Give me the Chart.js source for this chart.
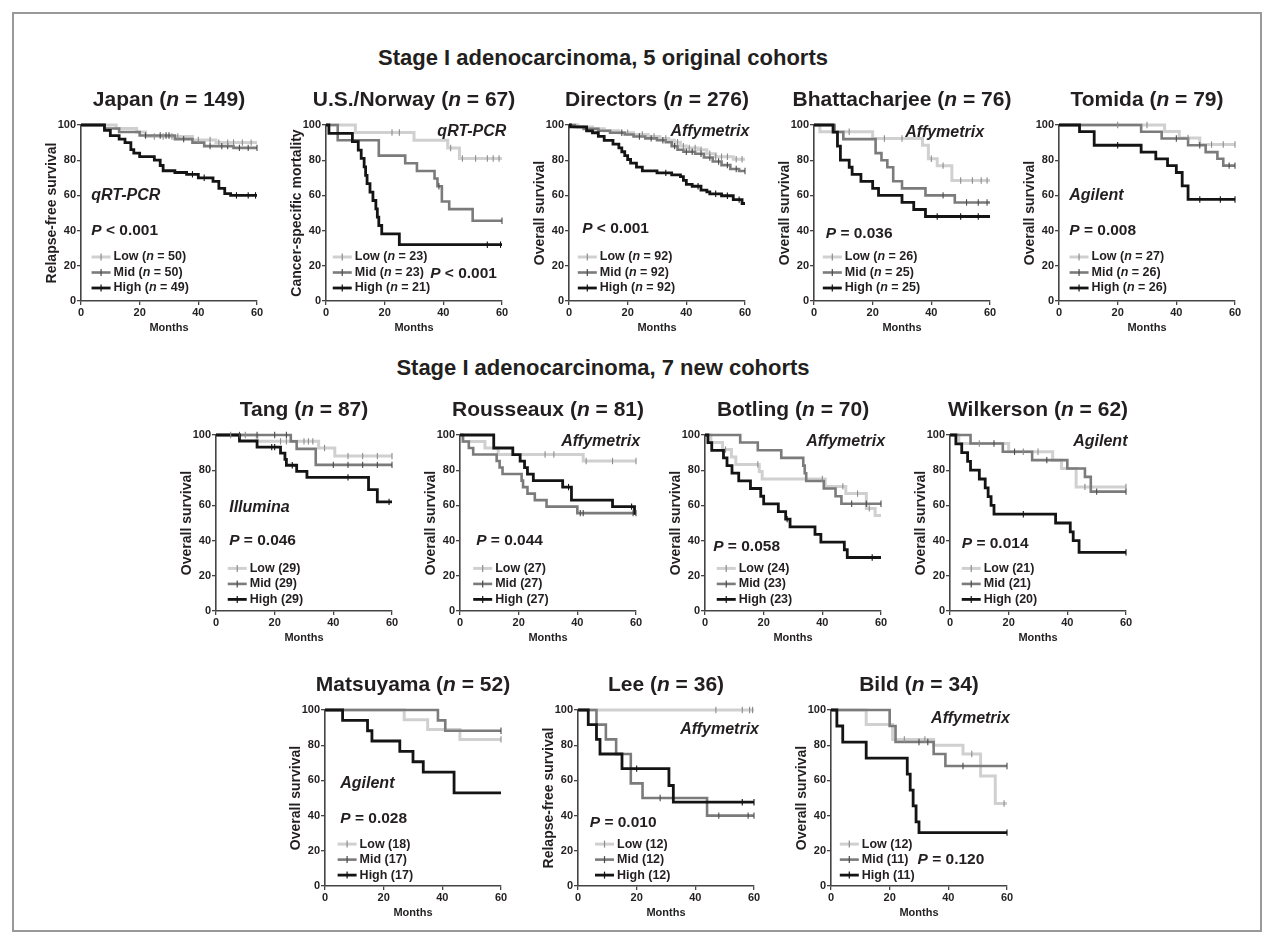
<!DOCTYPE html>
<html>
<head>
<meta charset="utf-8">
<script src="https://cdn.jsdelivr.net/npm/chart.js@4.4.1/dist/chart.umd.min.js"></script>
<style>
  body { margin: 0; background: #fff; font-family: "Liberation Sans", Arial, sans-serif; }
  #frame { position: absolute; left: 12px; top: 12px; width: 1250px; height: 920px; border: 2px solid #999; box-sizing: border-box; }
  .head { position: absolute; left: 0; width: 1206px; text-align: center; font-weight: bold; font-size: 22px; line-height: 25px; color: #231f20; }
  canvas { position: absolute; }
</style>
</head>
<body>
<div id="frame"></div>
<div class="head" style="top:45px">Stage I adenocarcinoma, 5 original cohorts</div>
<div class="head" style="top:355px">Stage I adenocarcinoma, 7 new cohorts</div>
<script>
// axis ticks
const monthTicks = [0, 20, 40, 60]
const pctTicks = [0, 20, 40, 60, 80, 100]

// survival steps: [month, survival % after the drop]; censor marks: months
const japanLow = [[12, 98], [19, 96], [22, 93.5], [38, 91.5], [46, 90]]
const japanLowCens = [25, 28, 31, 33, 40, 44, 47, 50, 52, 55, 58]
const japanMid = [[8, 98], [13, 96], [20, 94], [32, 92], [38, 90], [42, 88], [52, 87]]
const japanMidCens = [22, 27, 29, 30, 35, 44, 48, 50, 54, 57, 60]
const japanHigh = [[8, 97], [10, 94], [13, 92], [15, 90], [17, 86], [18, 84], [20, 82], [25, 80], [27, 77], [28, 74], [32, 73], [36, 72], [40, 70], [45, 68], [47, 64], [49, 61], [51, 60]]
const japanHighCens = [38, 42, 53, 57, 59.5]

const usLow = [[10, 95.7], [30, 91.3], [41.5, 86.9], [45.5, 81]]
const usLowCens = [22.5, 25, 42.5, 46.5, 51, 55, 57, 59]
const usMid = [[4, 91.3], [18, 82.6], [27, 78.3], [31, 73.9], [37, 69.6], [38, 65.2], [39.5, 56.5], [42, 52.2], [50, 45.6]]
const usMidCens = [38.5, 60]
const usHigh = [[1, 95.2], [9, 90.5], [11, 85.7], [12, 81], [13, 76.2], [13.5, 71.4], [14, 66.7], [15, 61.9], [16, 57.1], [17, 52.4], [17.5, 47.6], [18, 42.9], [19, 38.1], [25, 32]]
const usHighCens = [55, 59.5]

const dirLow = [[3, 98.9], [8, 97.8], [12, 96.7], [17, 95.6], [22, 94.6], [27, 93.5], [31, 92.4], [34, 91.3], [36, 90.2], [38, 88], [40, 87], [44, 85.9], [47, 83.7], [50, 82], [56, 80.5]]
const dirLowCens = [20, 25, 29, 33, 37, 39, 41, 43, 45, 48, 50, 52, 54, 57, 59]
const dirMid = [[2, 98.9], [5, 97.8], [10, 96.7], [14, 95.6], [19, 94.6], [22, 93.5], [26, 92.4], [30, 91.3], [33, 90.2], [35, 88], [37, 85.9], [39, 84.8], [43, 83.7], [46, 81.5], [49, 79.3], [52, 77.2], [55, 75], [58, 73.9]]
const dirMidCens = [18, 24, 28, 32, 36, 40, 42, 45, 48, 51, 54, 57, 60]
const dirHigh = [[0.5, 98.9], [6, 96.7], [8, 95.6], [10, 93.5], [12, 91.3], [15, 89.1], [17, 87], [18, 84.8], [19, 82.6], [20, 80.4], [21, 78.3], [23, 76.1], [25, 73.9], [30, 72.8], [35, 71.7], [38, 70.7], [39, 68.5], [40, 66.3], [42, 65.2], [45, 63], [47, 62], [48, 60.9], [52, 59.8], [56, 57.6], [59, 55.4]]
const dirHighCens = [33, 44, 50, 54, 58]

const bhaLow = [[2, 96.2], [20, 92.3], [37, 88.5], [39, 80.8], [42, 76.9], [47, 68.5]]
const bhaLowCens = [12, 24, 30, 40, 44, 50, 54, 57, 59]
const bhaMid = [[7, 96], [10, 92], [21, 84], [23, 80], [25, 76], [27, 68], [30, 64], [38, 60], [48, 56]]
const bhaMidCens = [44, 52, 56, 59]
const bhaHigh = [[6.5, 96], [8, 88], [9, 80], [12, 76], [13, 72], [16, 68], [20, 64], [22, 60], [30, 56], [34, 52], [38, 48]]
const bhaHighCens = [42, 50, 56]

const tomLow = [[36, 96.3], [41, 92.6], [48, 88.9]]
const tomLowCens = [20, 30, 44, 52, 56, 60]
const tomMid = [[28, 96.2], [35, 92.3], [44, 88.5], [50, 84.6], [54, 80.8], [56, 76.9]]
const tomMidCens = [40, 48, 58, 60]
const tomHigh = [[7, 96.2], [12, 88.5], [28, 84.6], [33, 80.8], [37, 76.9], [40, 73], [42, 65.4], [44, 57.7]]
const tomHighCens = [20, 48, 55, 60]

const tangLow = [[14, 96.4], [35, 92.6], [40.5, 88]]
const tangLowCens = [5, 10, 22, 24, 30, 31.5, 33, 37, 45, 50, 55, 60]
const tangMid = [[25.5, 96.4], [27.5, 92.1], [34, 83]]
const tangMidCens = [8, 14, 20, 24, 40, 45, 50, 55, 60]
const tangHigh = [[8, 96.6], [14, 93.1], [22, 89.7], [23.5, 86.2], [24, 82.8], [27.5, 79.3], [31, 75.9], [52, 69], [55, 62]]
const tangHighCens = [19, 20, 26, 45, 59]

const rouLow = [[1, 96.3], [8.5, 92.6], [13, 88.9], [42, 85.2]]
const rouLowCens = [29, 32, 43, 52, 60]
const rouMid = [[1, 96.3], [3, 92.6], [4.5, 88.9], [12.5, 85.2], [13.5, 81.5], [14.5, 77.8], [21, 74.1], [21.5, 70.4], [23, 66.7], [25.5, 63], [29.5, 59.3], [40, 55.6]]
const rouMidCens = [41, 42, 59, 60]
const rouHigh = [[11.5, 92.6], [18, 88.9], [20.5, 85.2], [22, 81.5], [23, 77.8], [25, 74.1], [35, 70.4], [38, 63], [52, 59.3], [59.5, 55.5]]
const rouHighCens = [37, 58.5]

const botLow = [[2, 95.8], [6, 91.7], [9, 87.5], [10.5, 83.3], [18.5, 79.2], [19.5, 75], [41, 70.8], [48, 66.7], [55, 58.3], [58, 54.2]]
const botLowCens = [7, 18, 40, 47, 52, 56]
const botMid = [[12, 95.7], [18, 91.3], [26, 87], [33.5, 82.6], [34, 78.3], [34.5, 73.9], [40.5, 69.6], [44.5, 65.2], [46.5, 60.9]]
const botMidCens = [50, 55, 60]
const botHigh = [[1, 95.7], [2.3, 91.3], [6.3, 87], [7.5, 82.6], [9.2, 78.3], [11.5, 73.9], [15.5, 69.6], [19, 65.2], [20, 60.9], [25, 56.5], [27.5, 52.2], [29, 47.8], [37.5, 43.5], [39.5, 39.1], [47.5, 34.8], [48.5, 30.4]]
const botHighCens = [28, 57]

const wilLow = [[3, 95.2], [20, 90.5], [35, 85.7], [38, 80.9], [43, 70.5]]
const wilLowCens = [10, 25, 30, 46, 60]
const wilMid = [[7, 95.2], [18, 90.5], [28, 85.7], [40, 81], [46, 76.2], [48, 67.8]]
const wilMidCens = [15, 22, 33, 50, 60]
const wilHigh = [[2, 95], [4, 90], [6, 85], [7, 80], [10, 75], [12, 70], [13, 65], [14, 60], [15, 55], [36, 50], [41, 45], [42, 40], [44, 33.3]]
const wilHighCens = [25, 60]

const matLow = [[27, 94.4], [35, 88.9], [46, 83.3]]
const matLowCens = [60]
const matMid = [[38.5, 94.1], [41, 88.2]]
const matMidCens = [60]
const matHigh = [[6, 94.1], [14.5, 88.2], [16, 82.4], [25.5, 76.5], [30, 70.6], [33.5, 64.7], [44, 52.9]]
const matHighCens = []

const leeLow = []
const leeLowCens = [47, 56, 58.5, 59.5]
const leeMid = [[6.3, 91.7], [9.5, 83.3], [13, 75], [18, 58.3], [22, 50], [44, 40]]
const leeMidCens = [28, 48, 58, 60]
const leeHigh = [[3.5, 91.7], [6.3, 83.3], [7.5, 75], [15, 66.7], [31, 57.1], [32.5, 47.6]]
const leeHighCens = [20, 56, 60]

const bilLow = [[12, 91.7], [21, 83.3], [35, 80], [45, 75], [51, 62.5], [56, 46.9]]
const bilLowCens = [25, 32, 48, 59]
const bilMid = [[20, 90.9], [22, 81.8], [35, 75], [39, 68.2]]
const bilMidCens = [30, 33, 45, 60]
const bilHigh = [[2, 90.9], [4, 81.8], [12, 72.7], [26, 63.6], [27, 54.5], [28, 45.5], [29, 36.4], [30, 30.3]]
const bilHighCens = [60]

const FONT = '"Liberation Sans", Arial, Helvetica, sans-serif'
const lineColors = ["#d0d0d0", "#7b7b7b", "#141414"]
const tickColors = ["#8c8c8c", "#4a4a4a", "#111"]
const lineWidths = [3, 2.6, 2.8]
const PLOT = 176
const CW = 266, CH = 262, PADL = 54, PADT = 45

// x,y = pixel position of the plot's left axis and top edge
const panels = [
  { x: 81, y: 125, title: "Japan (*n* = 149)", ylab: "Relapse-free survival", s: [japanLow, japanMid, japanHigh], c: [japanLowCens, japanMidCens, japanHighCens],
    method: ["qRT-PCR", 3.5, 60, "left"], p: ["*P* < 0.001", 3.5, 40, "left"], leg: ["Low (*n* = 50)", "Mid (*n* = 50)", "High (*n* = 49)"], legAt: [3.6, 25] },
  { x: 326, y: 125, title: "U.S./Norway (*n* = 67)", ylab: "Cancer-specific mortality", s: [usLow, usMid, usHigh], c: [usLowCens, usMidCens, usHighCens],
    method: ["qRT-PCR", 61.5, 96.5, "right"], p: ["*P* < 0.001", 35.5, 15.5, "left"], leg: ["Low (*n* = 23)", "Mid (*n* = 23)", "High (*n* = 21)"], legAt: [2.3, 25] },
  { x: 569, y: 125, title: "Directors (*n* = 276)", ylab: "Overall survival", s: [dirLow, dirMid, dirHigh], c: [dirLowCens, dirMidCens, dirHighCens],
    method: ["Affymetrix", 61.5, 96.5, "right"], p: ["*P* < 0.001", 4.5, 41, "left"], leg: ["Low (*n* = 92)", "Mid (*n* = 92)", "High (*n* = 92)"], legAt: [3, 25] },
  { x: 814, y: 125, title: "Bhattacharjee (*n* = 76)", ylab: "Overall survival", s: [bhaLow, bhaMid, bhaHigh], c: [bhaLowCens, bhaMidCens, bhaHighCens],
    method: ["Affymetrix", 58, 95.5, "right"], p: ["*P* = 0.036", 4, 38, "left"], leg: ["Low (*n* = 26)", "Mid (*n* = 25)", "High (*n* = 25)"], legAt: [3, 25] },
  { x: 1059, y: 125, title: "Tomida (*n* = 79)", ylab: "Overall survival", s: [tomLow, tomMid, tomHigh], c: [tomLowCens, tomMidCens, tomHighCens],
    method: ["Agilent", 3.5, 60, "left"], p: ["*P* = 0.008", 3.5, 40, "left"], leg: ["Low (*n* = 27)", "Mid (*n* = 26)", "High (*n* = 26)"], legAt: [3.6, 25] },

  { x: 216, y: 435, title: "Tang (*n* = 87)", ylab: "Overall survival", s: [tangLow, tangMid, tangHigh], c: [tangLowCens, tangMidCens, tangHighCens],
    method: ["Illumina", 4.5, 59, "left"], p: ["*P* = 0.046", 4.5, 40, "left"], leg: ["Low (29)", "Mid (29)", "High (29)"], legAt: [4, 24.2] },
  { x: 460, y: 435, title: "Rousseaux (*n* = 81)", ylab: "Overall survival", s: [rouLow, rouMid, rouHigh], c: [rouLowCens, rouMidCens, rouHighCens],
    method: ["Affymetrix", 61.4, 96, "right"], p: ["*P* = 0.044", 5.5, 40, "left"], leg: ["Low (27)", "Mid (27)", "High (27)"], legAt: [4.5, 24.2] },
  { x: 705, y: 435, title: "Botling (*n* = 70)", ylab: "Overall survival", s: [botLow, botMid, botHigh], c: [botLowCens, botMidCens, botHighCens],
    method: ["Affymetrix", 61.4, 96, "right"], p: ["*P* = 0.058", 2.8, 36.5, "left"], leg: ["Low (24)", "Mid (23)", "High (23)"], legAt: [4, 24.2] },
  { x: 950, y: 435, title: "Wilkerson (*n* = 62)", ylab: "Overall survival", s: [wilLow, wilMid, wilHigh], c: [wilLowCens, wilMidCens, wilHighCens],
    method: ["Agilent", 60.5, 96, "right"], p: ["*P* = 0.014", 4, 38, "left"], leg: ["Low (21)", "Mid (21)", "High (20)"], legAt: [4, 24.2] },

  { x: 325, y: 710, title: "Matsuyama (*n* = 52)", ylab: "Overall survival", s: [matLow, matMid, matHigh], c: [matLowCens, matMidCens, matHighCens],
    method: ["Agilent", 5.2, 58, "left"], p: ["*P* = 0.028", 5.2, 38, "left"], leg: ["Low (18)", "Mid (17)", "High (17)"], legAt: [4.3, 23.8] },
  { x: 578, y: 710, title: "Lee (*n* = 36)", ylab: "Relapse-free survival", s: [leeLow, leeMid, leeHigh], c: [leeLowCens, leeMidCens, leeHighCens],
    method: ["Affymetrix", 61.7, 89, "right"], p: ["*P* = 0.010", 4, 36, "left"], leg: ["Low (12)", "Mid (12)", "High (12)"], legAt: [5.8, 23.8] },
  { x: 831, y: 710, title: "Bild (*n* = 34)", ylab: "Overall survival", s: [bilLow, bilMid, bilHigh], c: [bilLowCens, bilMidCens, bilHighCens],
    method: ["Affymetrix", 61, 95, "right"], p: ["*P* = 0.120", 29.5, 15, "left"], leg: ["Low (12)", "Mid (11)", "High (11)"], legAt: [3, 23.8] },
]

function survAt(steps, t) {
  let s = 100
  steps.forEach(([x, y]) => { if (x <= t) s = y })
  return s
}

function curvePoints(steps) {
  const pts = [{ x: 0, y: 100 }]
  steps.forEach(([x, y]) => pts.push({ x: x, y: y }))
  pts.push({ x: 60, y: pts[pts.length - 1].y })
  return pts
}

// text with *italic* parts, all bold
function drawRich(ctx, str, x, y, size, align, italicAll) {
  const parts = str.split("*").map((t, i) => ({ t: t, it: italicAll || i % 2 === 1 }))
  const fontFor = it => (it ? "italic " : "") + "bold " + size + "px " + FONT
  let w = 0
  parts.forEach(p => { ctx.font = fontFor(p.it); p.w = ctx.measureText(p.t).width; w += p.w })
  let cx = align === "center" ? x - w / 2 : align === "right" ? x - w : x
  ctx.textAlign = "left"
  ctx.textBaseline = "middle"
  parts.forEach(p => { ctx.font = fontFor(p.it); ctx.fillText(p.t, cx, y); cx += p.w })
}

function panelText(p) {
  return {
    id: "panelText",
    afterDraw(chart) {
      const ctx = chart.ctx
      const a = chart.chartArea
      const xs = chart.scales.x, ys = chart.scales.y
      ctx.save()
      ctx.fillStyle = "#231f20"
      drawRich(ctx, p.title, (a.left + a.right) / 2, a.top - 25, 21, "center")
      ctx.font = "bold 11px " + FONT
      ctx.textAlign = "center"
      ctx.fillText("Months", (a.left + a.right) / 2, a.bottom + 27)
      ctx.save()
      ctx.translate(a.left - 29, (a.top + a.bottom) / 2)
      ctx.rotate(-Math.PI / 2)
      drawRich(ctx, p.ylab, 0, 0, 14, "center")
      ctx.restore()
      drawRich(ctx, p.method[0], xs.getPixelForValue(p.method[1]), ys.getPixelForValue(p.method[2]), 16, p.method[3], true)
      drawRich(ctx, p.p[0], xs.getPixelForValue(p.p[1]), ys.getPixelForValue(p.p[2]), 15.5, p.p[3])
      // legend
      const lx = xs.getPixelForValue(p.legAt[0])
      let ly = ys.getPixelForValue(p.legAt[1])
      p.leg.forEach((lab, i) => {
        ctx.strokeStyle = lineColors[i]
        ctx.lineWidth = lineWidths[i]
        ctx.beginPath(); ctx.moveTo(lx, ly); ctx.lineTo(lx + 19, ly); ctx.stroke()
        ctx.strokeStyle = tickColors[i]
        ctx.lineWidth = 1.2
        ctx.beginPath(); ctx.moveTo(lx + 9.5, ly - 3.5); ctx.lineTo(lx + 9.5, ly + 3.5); ctx.stroke()
        ctx.fillStyle = "#231f20"
        drawRich(ctx, lab, lx + 22, ly, 12.5, "left")
        ly += 15.5
      })
      ctx.restore()
    }
  }
}

function axisOpts(ticksArr, fit) {
  return {
    type: "linear",
    min: ticksArr[0],
    max: ticksArr[ticksArr.length - 1],
    afterBuildTicks: s => { s.ticks = ticksArr.map(v => ({ value: v })) },
    afterFit: fit,
    ticks: { font: { size: 11, weight: "bold", family: FONT }, color: "#231f20", padding: 1, maxRotation: 0, autoSkip: false },
    grid: { drawOnChartArea: false, drawTicks: true, tickLength: 4, color: "#444", lineWidth: 1.3 },
    border: { display: true, color: "#444", width: 1.6 }
  }
}

panels.forEach(p => {
  const cv = document.createElement("canvas")
  cv.width = CW
  cv.height = CH
  cv.style.left = (p.x - PADL) + "px"
  cv.style.top = (p.y - PADT) + "px"
  document.body.appendChild(cv)

  const datasets = []
  p.s.forEach((steps, i) => {
    datasets.push({
      data: curvePoints(steps),
      stepped: true,
      borderColor: lineColors[i],
      borderWidth: lineWidths[i],
      pointRadius: 0,
      fill: false,
      clip: 6,
      order: 4 - i
    })
    datasets.push({
      data: p.c[i].map(t => ({ x: t, y: survAt(steps, t) })),
      showLine: false,
      pointStyle: "line",
      rotation: 90,
      pointRadius: 3.2,
      pointBorderWidth: 1.1,
      pointBorderColor: tickColors[i],
      borderColor: tickColors[i],
      clip: 6,
      order: 0
    })
  })

  new Chart(cv, {
    type: "line",
    data: { datasets: datasets },
    options: {
      responsive: false,
      animation: false,
      devicePixelRatio: 1,
      layout: { padding: { left: 0, top: PADT, right: CW - PADL - PLOT, bottom: 0 } },
      plugins: { legend: { display: false }, tooltip: { enabled: false } },
      scales: {
        x: axisOpts(monthTicks, s => { s.height = CH - PADT - PLOT }),
        y: axisOpts(pctTicks, s => { s.width = PADL })
      }
    },
    plugins: [panelText(p)]
  })
})
</script>
</body>
</html>
